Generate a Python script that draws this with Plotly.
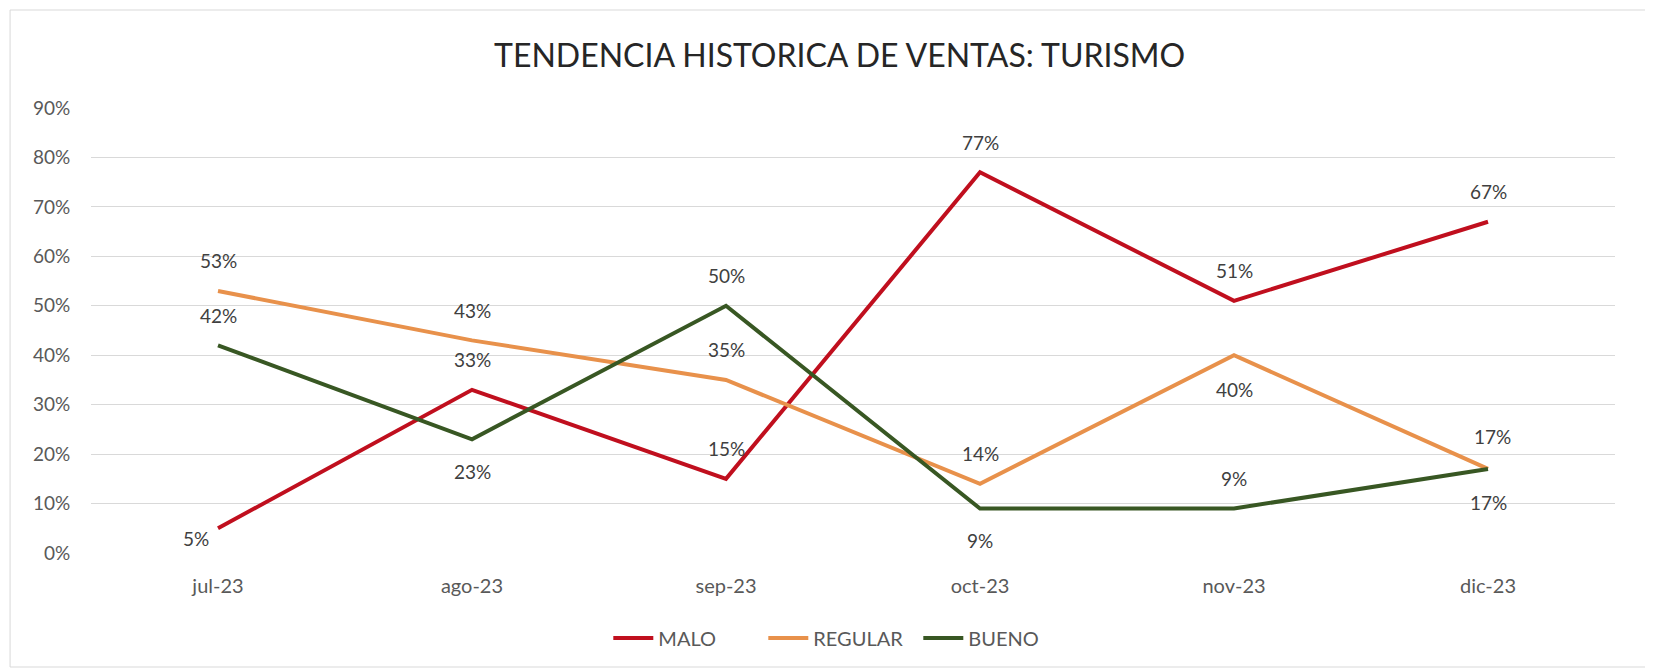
import plotly.graph_objects as go

meses = ["jul-23", "ago-23", "sep-23", "oct-23", "nov-23", "dic-23"]
malo = [0.05, 0.33, 0.15, 0.77, 0.51, 0.67]
regular = [0.53, 0.43, 0.35, 0.14, 0.40, 0.17]
bueno = [0.42, 0.23, 0.50, 0.09, 0.09, 0.17]
y_ticks = [0, 0.1, 0.2, 0.3, 0.4, 0.5, 0.6, 0.7, 0.8, 0.9]

# label placement per point: (xshift, yshift)
pos_malo = [(-22, -10), (0, 30), (0, 30), (0, 30), (0, 30), (0, 30)]
pos_regular = [(0, 30), (0, 30), (0, 30), (0, 30), (0, -34), (4, 32)]
pos_bueno = [(0, 30), (0, -32), (0, 30), (0, -32), (0, 30), (0, -34)]

FONT = "Lato"
c_malo = "#C00F1E"
c_regular = "#E8914B"
c_bueno = "#385723"

fig = go.Figure()
for name, vals, col in [("MALO", malo, c_malo), ("REGULAR", regular, c_regular), ("BUENO", bueno, c_bueno)]:
    fig.add_trace(go.Scatter(x=meses, y=vals, mode="lines", name=name,
                             line=dict(color=col, width=4), hoverinfo="skip"))

annotations = []
for vals, pos in [(malo, pos_malo), (regular, pos_regular), (bueno, pos_bueno)]:
    for m, v, (dx, dy) in zip(meses, vals, pos):
        annotations.append(dict(x=m, y=v, xref="x", yref="y", text=f"{round(v*100)}%",
                                showarrow=False, xshift=dx, yshift=dy,
                                font=dict(family=FONT, size=19, color="#404040")))

fig.update_layout(
    width=1637, height=662,
    margin=dict(l=83, r=30, t=100, b=117),
    paper_bgcolor="white", plot_bgcolor="white",
    font=dict(family=FONT, size=19, color="#595959"),
    title=dict(text="TENDENCIA HISTORICA DE VENTAS: TURISMO", x=0.508, xanchor="center",
               y=1 - 48 / 662, yanchor="middle",
               font=dict(family=FONT, size=32, color="#262626")),
    xaxis=dict(range=[-0.5, 5.5], showgrid=False, showline=False, zeroline=False,
               ticks="outside", ticklen=15,
               tickcolor="rgba(0,0,0,0)", tickfont=dict(size=20, color="#595959")),
    yaxis=dict(range=[0, 0.9], tickvals=y_ticks, tickformat=".0%", showgrid=True,
               gridcolor="#D9D9D9", gridwidth=1, zeroline=False, showline=False,
               ticks="outside", ticklen=16, tickcolor="rgba(0,0,0,0)",
               tickfont=dict(size=19, color="#595959")),
    legend=dict(orientation="h", x=0.492, xanchor="center", y=-0.191, yanchor="middle",
                font=dict(size=20, color="#595959"), entrywidth=100, itemwidth=40),
    annotations=annotations,
    shapes=[dict(type="rect", xref="paper", yref="paper", x0=-0.0531, x1=1.03,
                 y0=-0.2562, y1=1.2202, line=dict(color="#D9D9D9", width=1), layer="below")],
    showlegend=True,
)

fig.write_html("out.html")
